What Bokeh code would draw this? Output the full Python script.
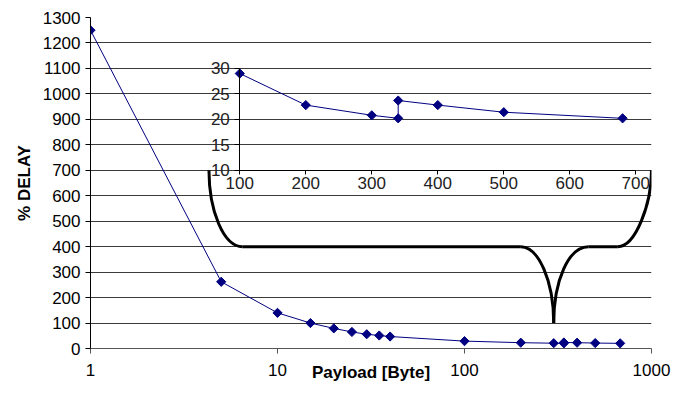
import numpy as np
from bokeh.plotting import figure
from bokeh.models import Range1d, LinearAxis, FixedTicker, PrintfTickFormatter, LinearScale
from bokeh.embed import file_html
from bokeh.resources import INLINE

# ---- data ----
payload = [1, 5, 10, 15, 20, 25, 30, 35, 40, 100, 200, 300, 340, 340, 400, 500, 680]
delay = [1250, 262, 140, 100, 79, 65, 56, 51, 47, 29, 22.8, 20.8, 20.2, 23.7, 22.8, 21.4, 20.2]

inset_payload = [100, 200, 300, 340, 340, 400, 500, 680]
inset_delay = [29, 22.8, 20.8, 20.2, 23.7, 22.8, 21.4, 20.2]

x_ticks = [1, 10, 100, 1000]
y_ticks = list(range(0, 1301, 100))
inset_x_ticks = [100, 200, 300, 400, 500, 600, 700]
inset_y_ticks = [10, 15, 20, 25, 30]

# brace annotation (main data coordinates), drawn as bezier pieces
brace_x0 = [4.3, 6.5, 200, 300, 460, 660]
brace_y0 = [700, 400, 400, 100, 400, 400]
brace_x1 = [6.5, 200, 300, 460, 660, 1000]
brace_y1 = [400, 400, 100, 400, 400, 700]
brace_cx0 = [4.3, 6.5, 248, 300, 460, 824]
brace_cy0 = [540, 400, 400, 267, 400, 400]
brace_cx1 = [5.15, 200, 300, 361, 660, 1000]
brace_cy1 = [400, 400, 267, 400, 400, 570]

FONT = "Liberation Sans"
NAVY = "#000080"

p = figure(width=680, height=394, x_axis_type="log",
           x_range=Range1d(1, 1000), y_range=Range1d(0, 1300),
           output_backend="svg", toolbar_location=None,
           min_border_left=90, min_border_right=29, min_border_top=17, min_border_bottom=46)
p.outline_line_color = None
p.background_fill_color = "white"
p.border_fill_color = "white"

p.extra_x_ranges = {"ix": Range1d(-126.2, 723.8)}
p.extra_x_scales = {"ix": LinearScale()}
p.extra_y_ranges = {"iy": Range1d(-25, 40)}
p.extra_y_scales = {"iy": LinearScale()}

# grid
p.xgrid.visible = False
p.ygrid.ticker = FixedTicker(ticks=y_ticks, minor_ticks=[])
p.ygrid.grid_line_color = "#3a3a3a"
p.ygrid.grid_line_width = 1

# main x axis
xa = p.xaxis[0]
xa.ticker = FixedTicker(ticks=x_ticks, minor_ticks=[])
xa.formatter = PrintfTickFormatter(format="%d")
xa.major_tick_out = 5
xa.major_tick_in = 0
xa.minor_tick_out = 0
xa.minor_tick_in = 0
xa.axis_line_color = "#555555"
xa.major_tick_line_color = "#555555"
xa.major_label_text_font = FONT
xa.major_label_text_font_size = "17px"
xa.major_label_text_color = "black"
xa.major_label_standoff = 10
xa.axis_label = "Payload [Byte]"
xa.axis_label_text_font = FONT
xa.axis_label_text_font_size = "17px"
xa.axis_label_text_font_style = "bold"
xa.axis_label_text_color = "black"
xa.axis_label_standoff = -16

# main y axis
ya = p.yaxis[0]
ya.ticker = FixedTicker(ticks=y_ticks, minor_ticks=[])
ya.major_tick_out = 5
ya.major_tick_in = 0
ya.minor_tick_out = 0
ya.minor_tick_in = 0
ya.axis_line_color = "black"
ya.major_tick_line_color = "black"
ya.major_label_text_font = FONT
ya.major_label_text_font_size = "17px"
ya.major_label_text_color = "black"
ya.major_label_standoff = 5
ya.axis_label = "% DELAY"
ya.axis_label_text_font = FONT
ya.axis_label_text_font_size = "17px"
ya.axis_label_text_font_style = "bold"
ya.axis_label_text_color = "black"
ya.axis_label_standoff = 6

# inset axes (fixed inside the frame)
iax = LinearAxis(x_range_name="ix", y_range_name="iy", fixed_location=10, bounds=(100, 700),
                 ticker=FixedTicker(ticks=inset_x_ticks, minor_ticks=[]))
iay = LinearAxis(x_range_name="ix", y_range_name="iy", fixed_location=100, bounds=(10, 30),
                 ticker=FixedTicker(ticks=inset_y_ticks, minor_ticks=[]))
for ax, standoff, tick in ((iax, 3, 4), (iay, 5, 5)):
    ax.major_tick_out = tick
    ax.major_tick_in = 0
    ax.minor_tick_out = 0
    ax.minor_tick_in = 0
    ax.axis_line_color = "black"
    ax.major_tick_line_color = "black"
    ax.major_label_text_font = FONT
    ax.major_label_text_font_size = "17px"
    ax.major_label_text_color = "#222222"
    ax.major_label_standoff = standoff
p.add_layout(iax, "below")
p.add_layout(iay, "left")

# brace
p.bezier(x0=brace_x0, y0=brace_y0, x1=brace_x1, y1=brace_y1,
         cx0=brace_cx0, cy0=brace_cy0, cx1=brace_cx1, cy1=brace_cy1,
         line_color="black", line_width=3)

# main series
p.line(payload, delay, line_color=NAVY, line_width=1)
p.scatter(payload, delay, marker="square", angle=np.pi / 4, size=6.5,
          fill_color=NAVY, line_color=NAVY)

# inset series
p.line(inset_payload, inset_delay, line_color=NAVY, line_width=1,
       x_range_name="ix", y_range_name="iy")
p.scatter(inset_payload, inset_delay, marker="square", angle=np.pi / 4, size=6.5,
          fill_color=NAVY, line_color=NAVY, x_range_name="ix", y_range_name="iy")

open("out.html", "w").write(file_html(p, INLINE))
